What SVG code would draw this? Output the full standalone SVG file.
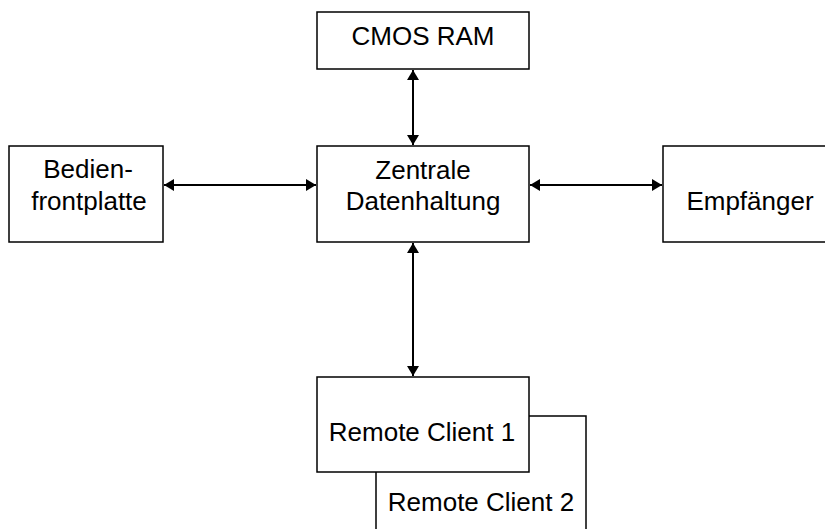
<svg xmlns="http://www.w3.org/2000/svg" width="825" height="529" viewBox="0 0 825 529">
<style>
.box{fill:#fff;stroke:#000;stroke-width:1.5}
.t{font-family:"Liberation Sans",Arial,sans-serif;font-size:26px;fill:#000;text-anchor:middle}
.c{stroke:#000;stroke-width:2;fill:none;marker-start:url(#ah);marker-end:url(#ah)}
</style>
<defs>
<marker id="ah" viewBox="0 0 10 12" refX="10" refY="6" markerWidth="10" markerHeight="12" markerUnits="userSpaceOnUse" orient="auto-start-reverse">
<path d="M0,0 L10,6 L0,12 Z" fill="#000"/>
</marker>
</defs>
<rect width="825" height="529" fill="#fff"/>
<g id="client2">
<rect class="box" x="376" y="416" width="210" height="130"/>
<text class="t" x="481" y="511">Remote Client 2</text>
</g>
<g id="client1">
<rect class="box" x="317" y="377" width="212" height="95"/>
<text class="t" x="422" y="441">Remote Client 1</text>
</g>
<g id="cmos">
<rect class="box" x="317" y="12" width="212" height="57"/>
<text class="t" x="423" y="45">CMOS RAM</text>
</g>
<g id="zentrale">
<rect class="box" x="317" y="146" width="212" height="96"/>
<text class="t" x="423" y="179">Zentrale</text>
<text class="t" x="423" y="210">Datenhaltung</text>
</g>
<g id="bedien">
<rect class="box" x="9" y="146" width="154" height="96"/>
<text class="t" x="88" y="178">Bedien-</text>
<text class="t" x="89" y="210">frontplatte</text>
</g>
<g id="empfaenger">
<rect class="box" x="663" y="146" width="175" height="96"/>
<text class="t" x="750" y="210">Empfänger</text>
</g>
<g id="connectors">
<line class="c" x1="413" y1="70" x2="413" y2="145"/>
<line class="c" x1="164" y1="185" x2="316" y2="185"/>
<line class="c" x1="530" y1="185" x2="662" y2="185"/>
<line class="c" x1="413" y1="243" x2="413" y2="376"/>
</g>
</svg>
